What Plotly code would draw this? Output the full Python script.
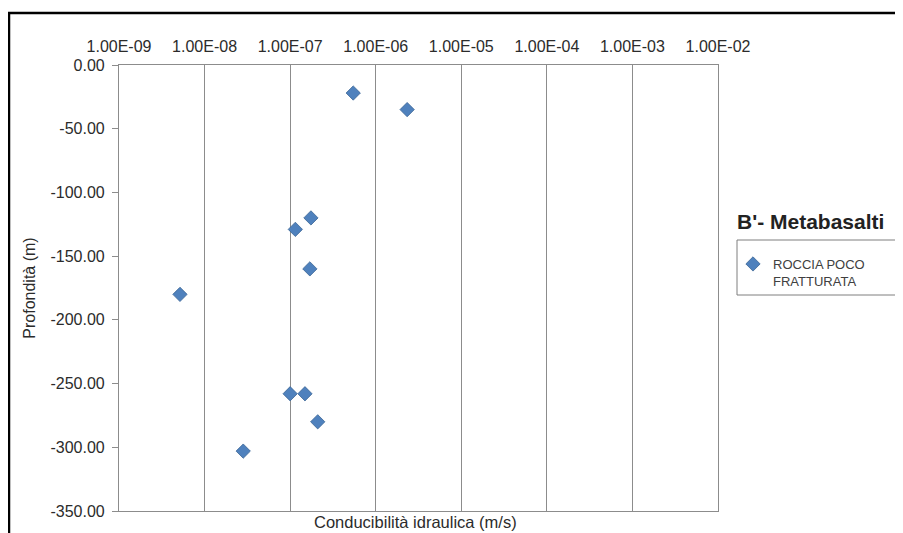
import plotly.graph_objects as go

# Data
conducibilita = [5.46e-7, 2.33e-6, 1.75e-7, 1.15e-7, 1.70e-7, 5.16e-9, 1.00e-7, 1.49e-7, 2.10e-7, 2.83e-8]
profondita = [-22, -35, -120, -129, -160, -180, -258, -258, -280, -303]
x_tickvals = [1e-9, 1e-8, 1e-7, 1e-6, 1e-5, 1e-4, 1e-3, 1e-2]
x_ticktext = ["1.00E-09", "1.00E-08", "1.00E-07", "1.00E-06", "1.00E-05", "1.00E-04", "1.00E-03", "1.00E-02"]
y_tickvals = [0, -50, -100, -150, -200, -250, -300, -350]
y_ticktext = ["0.00", "-50.00", "-100.00", "-150.00", "-200.00", "-250.00", "-300.00", "-350.00"]
series_name = "ROCCIA POCO<br>FRATTURATA"
chart_title = "B'- Metabasalti"

FONT = "Arial, Liberation Sans, sans-serif"
OFF = 8  # the page body adds an 8px offset; work in window pixels
W, H = 903 - OFF, 533 - OFF
L, R, T, B = 119 - OFF, 185, 65 - OFF, 22
PW, PH = W - L - R, H - T - B

def px_x(px):
    return (px - OFF - L) / PW

def px_y(py):
    return (H - B - (py - OFF)) / PH

fig = go.Figure()
fig.add_trace(go.Scatter(
    x=conducibilita, y=profondita, mode="markers", name=series_name,
    marker=dict(symbol="diamond", size=11, color="#4F81BD",
                line=dict(color="#3A6494", width=0.8)),
))

grid = "#8C8C8C"
fig.update_layout(
    width=W, height=H,
    margin=dict(l=L, r=R, t=T, b=B, autoexpand=False),
    paper_bgcolor="white", plot_bgcolor="white",
    font=dict(family=FONT, color="#333333"),
    showlegend=True,
    legend=dict(x=px_x(733), y=px_y(249), xanchor="left", yanchor="top",
                bgcolor="rgba(0,0,0,0)", borderwidth=0, valign="top",
                font=dict(size=13, color="#404040"), itemwidth=30),
    xaxis=dict(type="log", range=[-9, -2], side="top",
               tickvals=x_tickvals, ticktext=x_ticktext, tickfont=dict(size=16, color="#2b2b2b"),
               showgrid=True, gridcolor=grid, gridwidth=1.2,
               showline=True, linecolor=grid, linewidth=1.2, mirror=True,
               ticks="", ticklabelstandoff=6, zeroline=False, automargin=False),
    yaxis=dict(range=[-350, 0], tickvals=y_tickvals, ticktext=y_ticktext,
               tickfont=dict(size=16, color="#2b2b2b"),
               showgrid=False, showline=True, linecolor=grid, linewidth=1.2, mirror=True,
               ticks="outside", ticklen=6, tickcolor=grid, ticklabelstandoff=4,
               zeroline=False, automargin=False,
               title=dict(text="Profondità (m)", font=dict(size=16, color="#2b2b2b"), standoff=10)),
    annotations=[
        dict(text="Conducibilità idraulica (m/s)", xref="paper", yref="paper",
             x=px_x(415), y=px_y(522), xanchor="center", yanchor="middle",
             showarrow=False, font=dict(size=16.5, color="#2b2b2b")),
        dict(text="<b>" + chart_title + "</b>", xref="paper", yref="paper",
             x=px_x(810), y=px_y(221), xanchor="center", yanchor="middle",
             showarrow=False, font=dict(size=21, color="#222222")),
    ],
    shapes=[
        # legend frame
        dict(type="rect", xref="paper", yref="paper",
             x0=px_x(737), x1=px_x(896), y0=px_y(295), y1=px_y(240),
             line=dict(color="#7F7F7F", width=1)),
        # outer chart frame (top and left edges)
        dict(type="line", xref="paper", yref="paper",
             x0=px_x(8), x1=px_x(903), y0=px_y(13), y1=px_y(13),
             line=dict(color="black", width=2.5)),
        dict(type="line", xref="paper", yref="paper",
             x0=px_x(9), x1=px_x(9), y0=px_y(13), y1=px_y(533),
             line=dict(color="black", width=2.5)),
    ],
)

fig.write_html("out.html")
